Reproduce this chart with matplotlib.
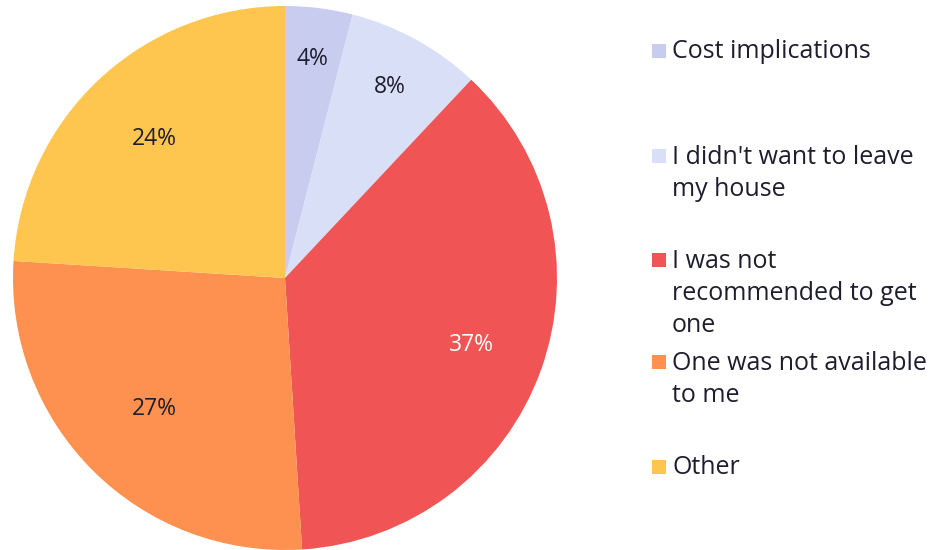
import numpy as np
import matplotlib
matplotlib.use("Agg")
import matplotlib.pyplot as plt
from matplotlib.patches import Rectangle

plt.rcParams['font.family'] = ['Open Sans', 'DejaVu Sans']

categories = [
    "Cost implications",
    "I didn't want to leave\nmy house",
    "I was not\nrecommended to get\none",
    "One was not available\nto me",
    "Other",
]
shares = [4, 8, 37, 27, 24]
colors = ["#c8cdf0", "#d8dff7", "#f05454", "#fe9150", "#fec54f"]
label_colors = ["#1e1e2e", "#1e1e2e", "#ffffff", "#1e1e2e", "#1e1e2e"]
label_dist = [0.81, 0.80, 0.73, 0.68, 0.70]

W, H = 942, 550
fig = plt.figure(figsize=(W / 100, H / 100), dpi=100)

cx, cy, r = 285, 278, 272
ax = fig.add_axes([(cx - r) / W, (H - cy - r) / H, 2 * r / W, 2 * r / H])
wedges, _ = ax.pie(shares, colors=colors, startangle=90, counterclock=False,
                   wedgeprops=dict(linewidth=0))
ax.set_xlim(-1, 1)
ax.set_ylim(-1, 1)
ax.set_aspect('equal')

for w, v, c, d in zip(wedges, shares, label_colors, label_dist):
    ang = np.deg2rad((w.theta1 + w.theta2) / 2)
    ax.text(d * np.cos(ang), d * np.sin(ang), f"{v}%", ha='center',
            va='center', fontsize=16.5, color=c)

# legend entries: (top of first line in px)
tops = [38, 143, 247, 349, 454]
line_h = 32
for name, col, top in zip(categories, colors, tops):
    fig.patches.append(Rectangle((652 / W, 1 - (top + 20) / H), 14 / W, 14 / H,
                                 transform=fig.transFigure, facecolor=col,
                                 edgecolor='none'))
    for i, line in enumerate(name.split("\n")):
        y = top + 14 + i * line_h
        fig.text(672 / W, 1 - y / H, line, ha='left', va='center',
                 fontsize=18, color="#1e1e2e")

fig.savefig("out.png", dpi=100)
